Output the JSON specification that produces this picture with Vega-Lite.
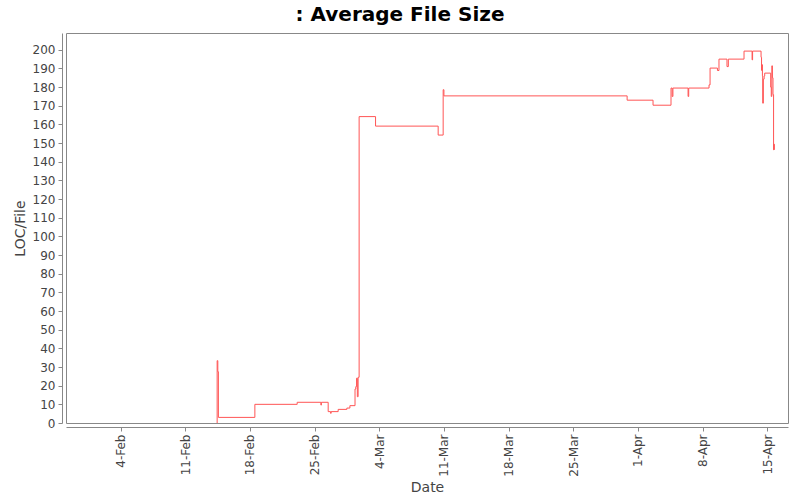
{
  "$schema": "https://vega.github.io/schema/vega-lite/v6.json",
  "width": 722,
  "height": 390,
  "autosize": {"type": "none"},
  "padding": {"left": 66, "top": 33, "right": 12, "bottom": 77},
  "background": "white",
  "title": {
    "text": ": Average File Size",
    "font": "DejaVu Sans",
    "fontSize": 20,
    "fontWeight": "bold",
    "color": "#000000",
    "anchor": "middle",
    "dx": -27,
    "offset": 8
  },
  "config": {
    "view": {"stroke": "#888888", "strokeWidth": 1},
    "axis": {
      "labelFont": "DejaVu Sans",
      "labelFontSize": 12,
      "labelColor": "#444444",
      "titleFont": "DejaVu Sans",
      "titleFontSize": 14,
      "titleFontWeight": "normal",
      "titleColor": "#444444",
      "domainColor": "#888888",
      "tickColor": "#888888",
      "tickSize": 4,
      "grid": false
    }
  },
  "data": {
    "values": [
      {"date": "2013-02-14T10:30:00", "value": 0},
      {"date": "2013-02-14T10:45:00", "value": 33.4},
      {"date": "2013-02-14T12:30:00", "value": 27.5},
      {"date": "2013-02-14T14:00:00", "value": 3.0},
      {"date": "2013-02-18T12:45:00", "value": 10.0},
      {"date": "2013-02-23T02:40:00", "value": 11.1},
      {"date": "2013-02-25T16:20:00", "value": 9.6},
      {"date": "2013-02-25T17:30:00", "value": 11.1},
      {"date": "2013-02-26T11:15:00", "value": 6.1},
      {"date": "2013-02-26T17:30:00", "value": 5.2},
      {"date": "2013-02-26T19:00:00", "value": 6.1},
      {"date": "2013-02-27T13:10:00", "value": 7.3},
      {"date": "2013-02-28T11:45:00", "value": 8.0},
      {"date": "2013-02-28T19:40:00", "value": 9.3},
      {"date": "2013-03-01T09:00:00", "value": 18.2},
      {"date": "2013-03-01T11:00:00", "value": 19.5},
      {"date": "2013-03-01T13:00:00", "value": 24.0},
      {"date": "2013-03-01T15:00:00", "value": 14.1},
      {"date": "2013-03-01T17:00:00", "value": 24.5},
      {"date": "2013-03-01T19:40:00", "value": 164.2},
      {"date": "2013-03-03T14:20:00", "value": 159.1},
      {"date": "2013-03-10T09:00:00", "value": 154.3},
      {"date": "2013-03-10T22:00:00", "value": 178.6},
      {"date": "2013-03-11T00:00:00", "value": 175.3},
      {"date": "2013-03-30T20:00:00", "value": 173.0},
      {"date": "2013-04-02T15:20:00", "value": 170.3},
      {"date": "2013-04-04T14:00:00", "value": 179.5},
      {"date": "2013-04-04T17:00:00", "value": 175.0},
      {"date": "2013-04-04T19:00:00", "value": 179.5},
      {"date": "2013-04-06T10:20:00", "value": 175.0},
      {"date": "2013-04-06T12:00:00", "value": 179.5},
      {"date": "2013-04-08T16:50:00", "value": 181.2},
      {"date": "2013-04-08T19:30:00", "value": 190.2},
      {"date": "2013-04-09T14:40:00", "value": 188.9},
      {"date": "2013-04-09T18:40:00", "value": 195.0},
      {"date": "2013-04-10T15:30:00", "value": 191.0},
      {"date": "2013-04-10T19:00:00", "value": 195.0},
      {"date": "2013-04-12T11:45:00", "value": 199.3},
      {"date": "2013-04-13T08:40:00", "value": 194.6},
      {"date": "2013-04-13T10:00:00", "value": 199.3},
      {"date": "2013-04-14T08:00:00", "value": 196.0},
      {"date": "2013-04-14T09:15:00", "value": 189.0},
      {"date": "2013-04-14T10:30:00", "value": 192.0},
      {"date": "2013-04-14T11:30:00", "value": 186.0},
      {"date": "2013-04-14T12:15:00", "value": 171.4},
      {"date": "2013-04-14T14:00:00", "value": 184.3},
      {"date": "2013-04-14T16:00:00", "value": 186.0},
      {"date": "2013-04-14T17:30:00", "value": 187.5},
      {"date": "2013-04-15T09:00:00", "value": 180.0},
      {"date": "2013-04-15T10:30:00", "value": 175.0},
      {"date": "2013-04-15T12:00:00", "value": 191.4},
      {"date": "2013-04-15T13:30:00", "value": 185.0},
      {"date": "2013-04-15T15:00:00", "value": 176.0},
      {"date": "2013-04-15T16:30:00", "value": 146.4},
      {"date": "2013-04-15T17:30:00", "value": 149.4},
      {"date": "2013-04-15T18:30:00", "value": 146.4}
    ]
  },
  "mark": {"type": "line", "interpolate": "step-after", "color": "#FF5555", "strokeWidth": 1, "clip": true},
  "encoding": {
    "x": {
      "field": "date",
      "type": "temporal",
      "title": "Date",
      "scale": {
        "domain": [
          {"year": 2013, "month": 1, "date": 29, "hours": 2},
          {"year": 2013, "month": 4, "date": 17, "hours": 6}
        ]
      },
      "axis": {
        "offset": 4,
        "format": "%-d-%b",
        "labelAngle": -90,
        "labelAlign": "right",
        "labelBaseline": "middle",
        "labelPadding": 3,
        "titlePadding": 4,
        "values": [
          {"year": 2013, "month": 2, "date": 4},
          {"year": 2013, "month": 2, "date": 11},
          {"year": 2013, "month": 2, "date": 18},
          {"year": 2013, "month": 2, "date": 25},
          {"year": 2013, "month": 3, "date": 4},
          {"year": 2013, "month": 3, "date": 11},
          {"year": 2013, "month": 3, "date": 18},
          {"year": 2013, "month": 3, "date": 25},
          {"year": 2013, "month": 4, "date": 1},
          {"year": 2013, "month": 4, "date": 8},
          {"year": 2013, "month": 4, "date": 15}
        ]
      }
    },
    "y": {
      "field": "value",
      "type": "quantitative",
      "title": "LOC/File",
      "scale": {"domain": [0, 209], "nice": false, "zero": true},
      "axis": {
        "offset": 4,
        "values": [0,10,20,30,40,50,60,70,80,90,100,110,120,130,140,150,160,170,180,190,200],
        "labelPadding": 3,
        "titlePadding": 5
      }
    }
  }
}
